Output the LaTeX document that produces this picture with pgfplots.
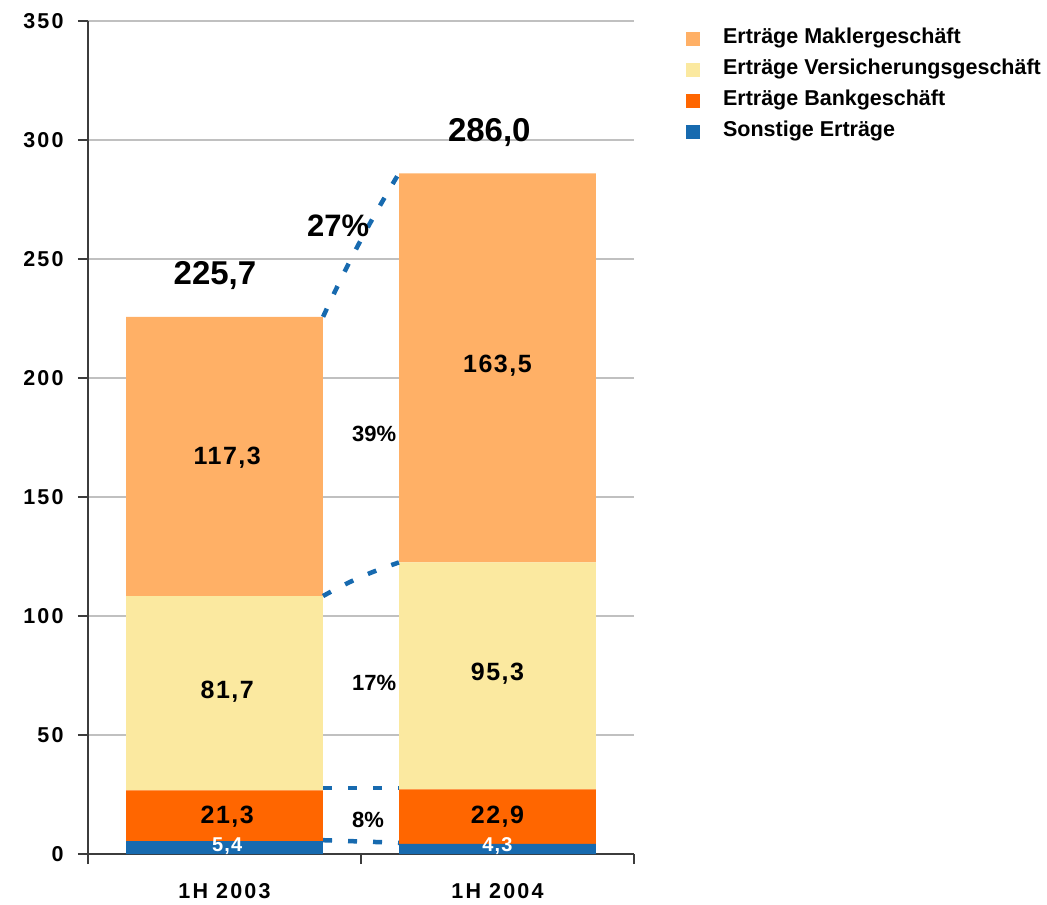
\documentclass[border=0pt]{standalone}
\usepackage{pgfplots}
\usepackage{pgfplotstable}
\pgfplotsset{compat=1.18}
\usepackage{fontspec}
\setmainfont{Liberation Sans}
\newfontfamily\trk[LetterSpace=10]{Liberation Sans}
\newfontfamily\trks[LetterSpace=6]{Liberation Sans}

\definecolor{makler}{RGB}{255,176,102}
\definecolor{versich}{RGB}{251,233,160}
\definecolor{bank}{RGB}{255,102,0}
\definecolor{sonst}{RGB}{23,106,175}
\definecolor{gridgray}{RGB}{192,192,192}
\definecolor{axgray}{RGB}{60,60,60}

% Ertraege je Halbjahr (Mio. EUR)
\pgfplotstableread{
x sonst bank vers makler
0 5.4  21.3 81.7 117.3
1 4.3  22.9 95.3 163.5
}\ertraege

\pgfplotsset{
  sqlegend/.style={legend image code/.code={\fill[##1] (0bp,-7bp) rectangle (14bp,7bp);}},
}
\tikzset{
  seg/.style={font=\trks\fontsize{25bp}{29bp}\selectfont\bfseries},
  segw/.style={text=white, font=\trks\fontsize{20bp}{24bp}\selectfont\bfseries},
  conn/.style={draw=sonst, line width=4.5bp, dash pattern=on 9bp off 16bp},
}

\begin{document}
\begin{tikzpicture}
\useasboundingbox (-88bp,-51bp) rectangle (959bp,854bp);
\begin{axis}[
  at={(0,0)}, anchor=south west,
  scale only axis, width=546bp, height=833bp,
  xmin=-0.5, xmax=1.5, ymin=0, ymax=350,
  ybar stacked, bar width=0.72,
  axis x line*=bottom, axis y line*=left,
  axis line style={axgray, line width=1.5bp},
  ytick={0,50,...,350},
  ymajorgrids, grid style={gridgray, line width=1.3bp},
  xtick={-0.5,0.5,1.5}, xticklabels={,,},
  extra x ticks={0,1}, extra x tick labels={1H 2003,1H 2004},
  extra x tick style={major tick length=0pt, grid=none},
  tick align=outside, major tick length=10bp,
  tick style={axgray, line width=1.3bp},
  /pgf/number format/assume math mode=true,
  yticklabel style={font=\trk\fontsize{21.5bp}{25bp}\selectfont\bfseries, xshift=-11bp},
  xticklabel style={font=\trk\fontsize{21.5bp}{25bp}\selectfont\bfseries, yshift=-26bp},
  reverse legend,
  legend cell align=left,
  legend style={at={(1.0895,0.992)}, anchor=north west, draw=none, fill=none,
    font=\fontsize{21.5bp}{24bp}\selectfont\bfseries,
    row sep=13bp,
    nodes={inner sep=0pt, text height=14bp, text depth=4bp},
    /tikz/every odd column/.append style={column sep=23bp}},
  clip=false,
]
\addplot[fill=sonst, draw=none, sqlegend] table[x=x, y=sonst]{\ertraege};
\addlegendentry{Sonstige Erträge}
\addplot[fill=bank, draw=none, sqlegend] table[x=x, y=bank]{\ertraege};
\addlegendentry{Erträge Bankgeschäft}
\addplot[fill=versich, draw=none, sqlegend] table[x=x, y=vers]{\ertraege};
\addlegendentry{Erträge Versicherungsgeschäft}
\addplot[fill=makler, draw=none, sqlegend] table[x=x, y=makler]{\ertraege};
\addlegendentry{Erträge Maklergeschäft}

% Ankerpunkte fuer Beschriftungen und Verbindungslinien
\coordinate (topA) at (axis cs:0.361,225.7);
\coordinate (topB) at (axis cs:0.639,286.0);
\coordinate (verA) at (axis cs:0.361,108.4);
\coordinate (verB) at (axis cs:0.639,122.5);
\coordinate (bnkA) at (axis cs:0.361,27.8);
\coordinate (bnkB) at (axis cs:0.639,27.8);
\coordinate (sonA) at (axis cs:0.361,5.8);
\coordinate (sonB) at (axis cs:0.639,4.7);

\coordinate (sumA) at (axis cs:-0.035,243);
\coordinate (sumB) at (axis cs:0.97,303.3);
\coordinate (p27) at (axis cs:0.416,264);
\coordinate (p39) at (axis cs:0.548,176.5);
\coordinate (p17) at (axis cs:0.548,71.8);
\coordinate (p8)  at (axis cs:0.526,14.3);

\coordinate (mA) at (axis cs:0.01,166.4);
\coordinate (vA) at (axis cs:0.01,68);
\coordinate (bA) at (axis cs:0.01,15.5);
\coordinate (sA) at (axis cs:0.01,3.4);
\coordinate (mB) at (axis cs:1.0,205);
\coordinate (vB) at (axis cs:1.0,75.6);
\coordinate (bB) at (axis cs:1.0,15.5);
\coordinate (sB) at (axis cs:1.0,3.4);
\end{axis}

% Verbindungslinien zwischen den Halbjahren
\draw[conn] (topA) to[bend left=3] (topB);
\draw[conn] (verA) to[bend left=5] (verB);
\draw[conn] (bnkA) -- (bnkB);
\draw[conn] (sonA) -- (sonB);

% Summen
\node[font=\fontsize{33bp}{38bp}\selectfont\bfseries] at (sumA) {225,7};
\node[font=\fontsize{33bp}{38bp}\selectfont\bfseries] at (sumB) {286,0};

% Wachstumsraten
\node[font=\fontsize{31bp}{36bp}\selectfont\bfseries] at (p27) {27\%};
\node[font=\fontsize{22bp}{26bp}\selectfont\bfseries] at (p39) {39\%};
\node[font=\fontsize{22bp}{26bp}\selectfont\bfseries] at (p17) {17\%};
\node[font=\fontsize{22bp}{26bp}\selectfont\bfseries] at (p8) {8\%};

% Segmentwerte
\node[seg] at (mA) {117,3};
\node[seg] at (vA) {81,7};
\node[seg] at (bA) {21,3};
\node[segw] at (sA) {5,4};
\node[seg] at (mB) {163,5};
\node[seg] at (vB) {95,3};
\node[seg] at (bB) {22,9};
\node[segw] at (sB) {4,3};
\end{tikzpicture}
\end{document}
